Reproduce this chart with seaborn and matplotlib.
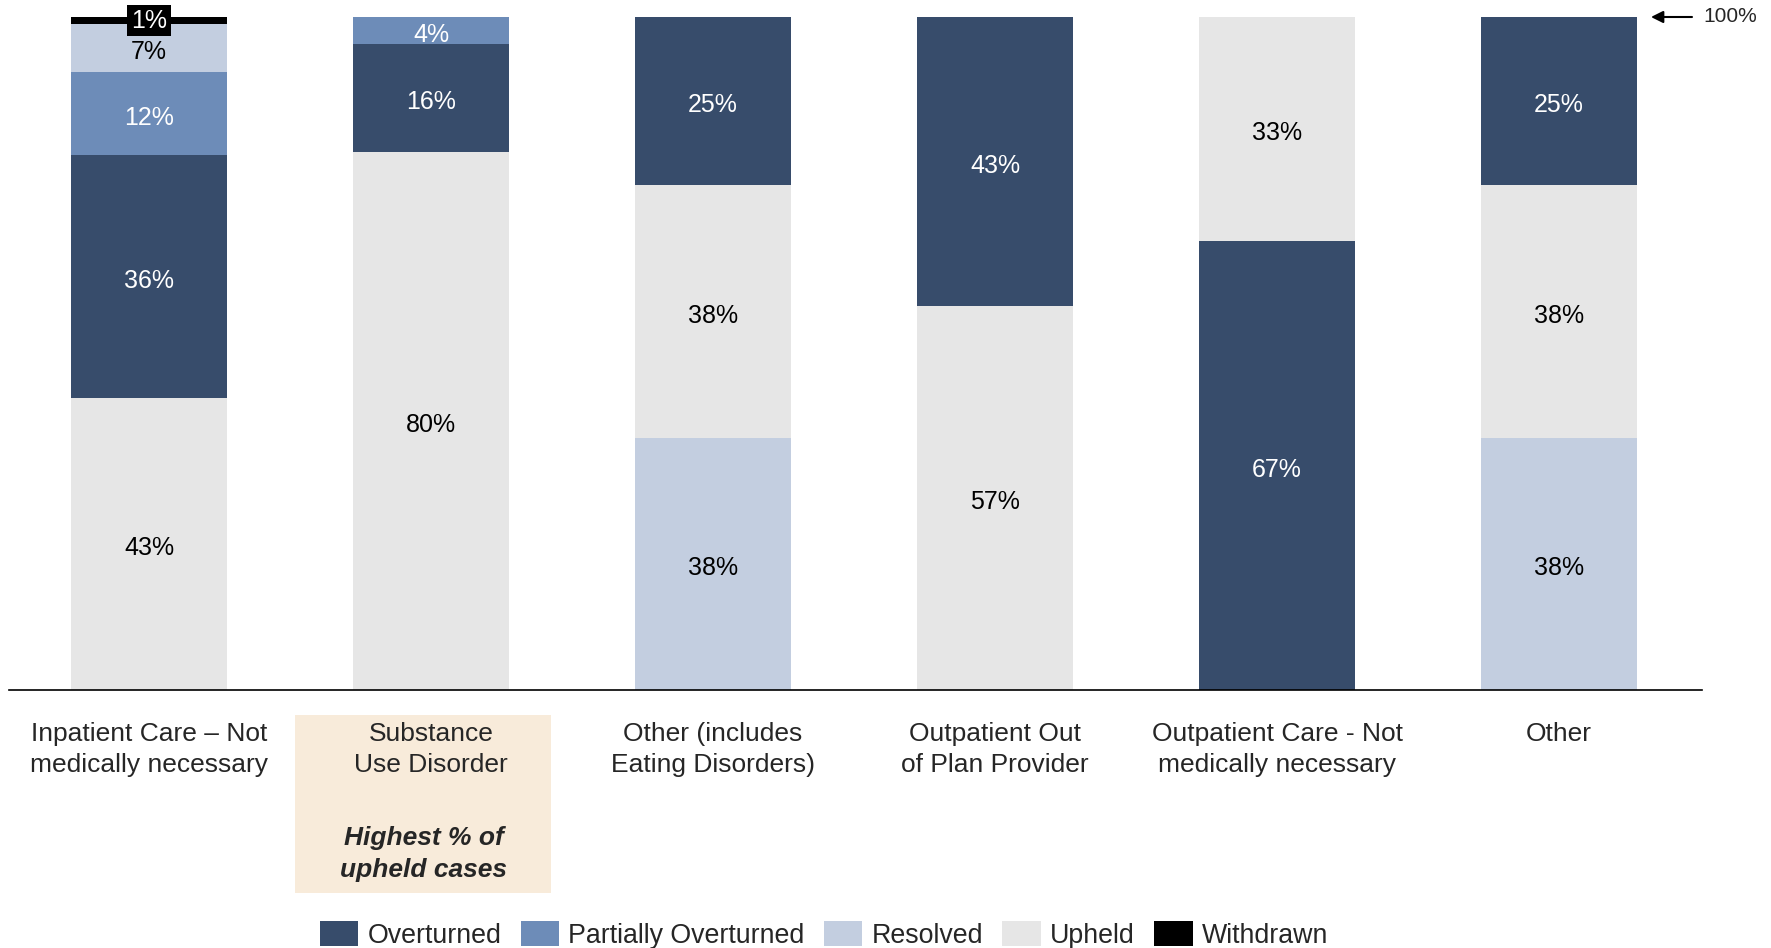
import matplotlib
matplotlib.use("Agg")
import matplotlib.pyplot as plt
import seaborn as sns
import pandas as pd
from matplotlib.patches import Rectangle, Patch

# ---------------- data ----------------
categories = ["Inpatient Care – Not\nmedically necessary",
              "Substance\nUse Disorder",
              "Other (includes\nEating Disorders)",
              "Outpatient Out\nof Plan Provider",
              "Outpatient Care - Not\nmedically necessary",
              "Other"]
statuses = ["Overturned", "Partially Overturned", "Resolved", "Upheld", "Withdrawn"]
overturned = [36.1, 16.0, 25.0, 42.9, 66.7, 25.0]
partially_overturned = [12.3, 4.0, 0, 0, 0, 0]
resolved = [7.1, 0, 37.5, 0, 0, 37.5]
upheld = [43.4, 80.0, 37.5, 57.1, 33.3, 37.5]
withdrawn = [1.1, 0, 0, 0, 0, 0]
stack_order = [
    ["Upheld", "Overturned", "Partially Overturned", "Resolved", "Withdrawn"],
    ["Upheld", "Overturned", "Partially Overturned"],
    ["Resolved", "Upheld", "Overturned"],
    ["Upheld", "Overturned"],
    ["Overturned", "Upheld"],
    ["Resolved", "Upheld", "Overturned"],
]
highlight_note = "Highest % of\nupheld cases"
top_marker = "100%"

colors = {"Overturned": "#374C6B", "Partially Overturned": "#6D8CB8",
          "Resolved": "#C3CEE0", "Upheld": "#E6E6E6", "Withdrawn": "#000000"}
text_colors = {"Overturned": "white", "Partially Overturned": "white",
               "Resolved": "black", "Upheld": "black", "Withdrawn": "white"}

values = {"Overturned": overturned, "Partially Overturned": partially_overturned,
          "Resolved": resolved, "Upheld": upheld, "Withdrawn": withdrawn}

rows = []
for i, cat in enumerate(categories):
    bottom = 0.0
    for st in stack_order[i]:
        v = values[st][i]
        rows.append(dict(category=cat, status=st, value=v, bottom=bottom, idx=i))
        bottom += v
    for st in statuses:
        if st not in stack_order[i]:
            rows.append(dict(category=cat, status=st, value=0.0, bottom=bottom, idx=i))
df = pd.DataFrame(rows)

# ---------------- plot ----------------
sns.set_style("white")
plt.rcParams["font.family"] = ["Liberation Sans", "DejaVu Sans"]

fig = plt.figure(figsize=(17.71, 9.48), dpi=100)
ax = fig.add_axes([9 / 1771, 1 - 690 / 948, (1702 - 9) / 1771, (690 - 17) / 948])

bar_w = 156 / 282
for st in statuses:
    sub = df[df["status"] == st].sort_values("idx")
    sns.barplot(data=sub, x="category", y="value", order=categories,
                bottom=sub["bottom"].values, color=colors[st], width=bar_w,
                errorbar=None, saturation=1, linewidth=0, ax=ax)

# value labels
for _, r in df.iterrows():
    if r["value"] <= 0:
        continue
    y = r["bottom"] + r["value"] / 2
    lab = f"{round(r['value']):.0f}%"
    kw = {}
    if r["status"] == "Withdrawn":
        kw["bbox"] = dict(boxstyle="square,pad=0.15", fc="black", ec="none")
        off = 0
    else:
        off = -3
    ax.annotate(lab, xy=(r["idx"], y), xytext=(0, off), textcoords="offset points",
                ha="center", va="center", fontsize=18,
                color=text_colors[r["status"]], annotation_clip=False, zorder=5, **kw)

ax.set_xlim((9 - 149) / 282, (1702 - 149) / 282)
ax.set_ylim(0, 100)
ax.set_xlabel("")
ax.set_ylabel("")
ax.set_yticks([])
ax.tick_params(axis="x", length=0, pad=23, labelsize=19)
for lbl in ax.get_xticklabels():
    lbl.set_multialignment("center")
    lbl.set_linespacing(1.38)
for s in ["left", "top", "right"]:
    ax.spines[s].set_visible(False)
ax.spines["bottom"].set_color("black")
ax.spines["bottom"].set_linewidth(1.2)
ax.set_facecolor("none")

# highlight box behind second category label
ax.add_patch(Rectangle((295 / 1771, 1 - 893 / 948), (551 - 295) / 1771, (893 - 715) / 948,
                       transform=fig.transFigure, facecolor="#F8EBDA", edgecolor="none",
                       clip_on=False, zorder=0))
fig.text(424 / 1771, 1 - 854 / 948, highlight_note, ha="center", va="center",
         fontsize=19, fontweight="bold", fontstyle="italic", linespacing=1.38)

# 100% marker
ax.annotate("", xy=((1651 - 149) / 282, 100), xytext=((1692 - 149) / 282, 100),
            arrowprops=dict(arrowstyle="-|>", color="black", lw=1.5, mutation_scale=18,
                            shrinkA=0, shrinkB=0), annotation_clip=False)
ax.text((1703 - 149) / 282, 100, top_marker, ha="left", va="center", fontsize=15,
        clip_on=False)

# legend
handles = [Patch(facecolor=colors[s], edgecolor="none", label=s) for s in statuses]
fig.legend(handles=handles, loc="center", bbox_to_anchor=(824 / 1771, 1 - 935 / 948),
           ncol=5, frameon=False, fontsize=19.3, handlelength=1.44, handleheight=1.06,
           handletextpad=0.34, columnspacing=0.72, borderpad=0, borderaxespad=0)

fig.savefig("out.png", dpi=100)
